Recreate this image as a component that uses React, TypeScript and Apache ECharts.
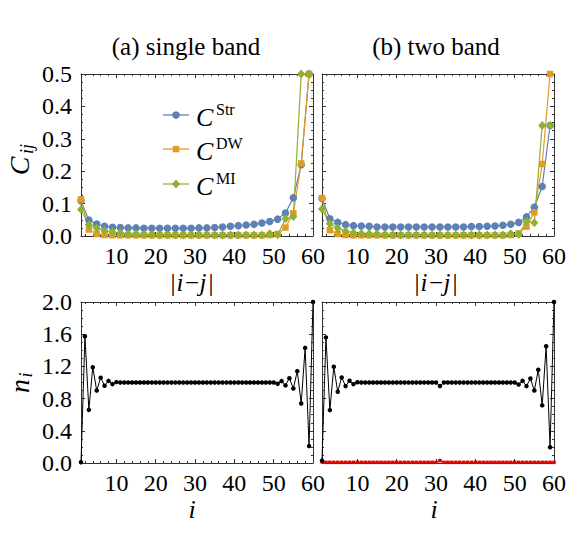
import React, { useEffect, useRef } from 'react';
import * as echarts from 'echarts';

// ---------- data ----------
const sepValues = [1, 3, 5, 7, 9, 11, 13, 15, 17, 19, 21, 23, 25, 27, 29, 31, 33, 35, 37, 39, 41, 43, 45, 47, 49, 51, 53, 55, 57, 59];
const siteValues = [1, 2, 3, 4, 5, 6, 7, 8, 9, 10, 11, 12, 13, 14, 15, 16, 17, 18, 19, 20, 21, 22, 23, 24, 25, 26, 27, 28, 29, 30, 31, 32, 33, 34, 35, 36, 37, 38, 39, 40, 41, 42, 43, 44, 45, 46, 47, 48, 49, 50, 51, 52, 53, 54, 55, 56, 57, 58, 59, 60];

const strSingle = [0.109, 0.049, 0.037, 0.030, 0.027, 0.026, 0.025, 0.025, 0.024, 0.024, 0.024, 0.024, 0.024, 0.024, 0.024, 0.025, 0.025, 0.026, 0.028, 0.030, 0.032, 0.034, 0.036, 0.040, 0.045, 0.052, 0.071, 0.118, 0.220, 0.500];
const dwSingle = [0.113, 0.020, 0.006, 0.003, 0.002, 0.002, 0.002, 0.002, 0.002, 0.002, 0.002, 0.002, 0.002, 0.002, 0.002, 0.002, 0.002, 0.002, 0.002, 0.002, 0.002, 0.002, 0.002, 0.002, 0.003, 0.006, 0.026, 0.070, 0.224, 0.500];
const miSingle = [0.082, 0.035, 0.024, 0.016, 0.012, 0.009, 0.007, 0.006, 0.005, 0.004, 0.003, 0.003, 0.003, 0.003, 0.003, 0.003, 0.003, 0.003, 0.003, 0.003, 0.003, 0.003, 0.003, 0.003, 0.007, 0.004, 0.053, 0.060, 0.500, 0.500];

const strTwo = [0.116, 0.053, 0.042, 0.035, 0.032, 0.031, 0.030, 0.028, 0.028, 0.028, 0.028, 0.028, 0.028, 0.028, 0.028, 0.028, 0.028, 0.028, 0.028, 0.029, 0.029, 0.030, 0.031, 0.033, 0.036, 0.042, 0.059, 0.089, 0.153, 0.341];
const dwTwo = [0.117, 0.018, 0.006, 0.003, 0.002, 0.002, 0.002, 0.002, 0.002, 0.002, 0.002, 0.002, 0.002, 0.002, 0.002, 0.002, 0.002, 0.002, 0.002, 0.002, 0.002, 0.002, 0.002, 0.002, 0.003, 0.008, 0.029, 0.073, 0.222, 0.500];
const miTwo = [0.083, 0.038, 0.024, 0.015, 0.010, 0.008, 0.007, 0.006, 0.005, 0.004, 0.003, 0.003, 0.003, 0.003, 0.003, 0.003, 0.003, 0.003, 0.003, 0.003, 0.003, 0.003, 0.003, 0.003, 0.007, 0.005, 0.044, 0.041, 0.341, 0.341];

const nSingle = [0.01, 1.575, 0.66, 1.19, 0.90, 1.06, 0.96, 1.02, 0.98, 1.005,
  1.0, 1.0, 1.0, 1.0, 1.0, 1.0, 1.0, 1.0, 1.0, 1.0,
  1.0, 1.0, 1.0, 1.0, 1.0, 1.0, 1.0, 1.0, 1.0, 1.0,
  1.0, 1.0, 1.0, 1.0, 1.0, 1.0, 1.0, 1.0, 1.0, 1.0,
  1.0, 1.0, 1.0, 1.0, 1.0, 1.0, 1.0, 1.0, 1.0, 1.0,
  0.984, 1.017, 0.964, 1.054, 0.926, 1.141, 0.74, 1.43, 0.21, 2.0];
const nTwo = [0.03, 1.56, 0.657, 1.195, 0.885, 1.063, 0.955, 1.021, 0.98, 1.003,
  1.0, 1.0, 1.0, 1.0, 1.0, 1.0, 1.0, 1.0, 1.0, 1.0,
  1.0, 1.0, 1.0, 1.0, 1.0, 1.0, 1.0, 1.0, 1.0, 1.0,
  0.955, 1.0, 1.0, 1.0, 1.0, 1.0, 1.0, 1.0, 1.0, 1.0,
  1.0, 1.0, 1.0, 1.0, 1.0, 1.0, 1.0, 1.0, 1.0, 1.0,
  0.976, 1.02, 0.955, 1.05, 0.90, 1.158, 0.716, 1.45, 0.195, 2.0];
const nTwoRed = [0.015, 0.008, 0.008, 0.008, 0.008, 0.008, 0.008, 0.008, 0.008, 0.008,
  0.008, 0.008, 0.008, 0.008, 0.008, 0.008, 0.008, 0.008, 0.008, 0.008,
  0.008, 0.008, 0.008, 0.008, 0.008, 0.008, 0.008, 0.008, 0.008, 0.008,
  0.03, 0.008, 0.008, 0.008, 0.008, 0.008, 0.008, 0.008, 0.008, 0.008,
  0.008, 0.008, 0.008, 0.008, 0.008, 0.008, 0.008, 0.008, 0.008, 0.008,
  0.008, 0.008, 0.008, 0.008, 0.008, 0.008, 0.008, 0.008, 0.008, 0.008];

const xTickValues = [10, 20, 30, 40, 50, 60];
const xMinorTickValues = [2, 4, 6, 8, 12, 14, 16, 18, 22, 24, 26, 28, 32, 34, 36, 38, 42, 44, 46, 48, 52, 54, 56, 58];

const panelTitles = ['(a) single band', '(b) two band'];
const legendNames = ['Str', 'DW', 'MI'];

// ---------- styles ----------
const FONT = 'Liberation Serif';
const FRAME = '#333333';
const BLUE = '#5e81b5';
const ORANGE = '#e19c24';
const GREEN = '#8fb131';

const grids = [
  { left: 81, top: 74, width: 232, height: 162 },
  { left: 322, top: 74, width: 232, height: 162 },
  { left: 81, top: 302, width: 232, height: 161 },
  { left: 322, top: 302, width: 232, height: 161 },
];

function makeXAxes(g: number) {
  const base = {
    type: 'value', gridIndex: g, min: 1, max: 60,
    splitLine: { show: false },
    axisLine: { show: true, onZero: false, lineStyle: { color: FRAME, width: 1 } },
  };
  const major = { show: true, inside: true, length: 4, customValues: xTickValues, lineStyle: { color: FRAME, width: 1 } };
  const minor = { show: true, inside: true, length: 2, customValues: xMinorTickValues, lineStyle: { color: FRAME, width: 1 } };
  return [
    { ...base, position: 'bottom', axisTick: major, axisLabel: { show: true, customValues: xTickValues, fontSize: 24, fontFamily: FONT, color: '#000', margin: 8 } },
    { ...base, position: 'bottom', axisLine: { show: false, onZero: false }, axisTick: minor, axisLabel: { show: false } },
    { ...base, position: 'top', axisTick: major, axisLabel: { show: false } },
    { ...base, position: 'top', axisLine: { show: false, onZero: false }, axisTick: minor, axisLabel: { show: false } },
  ];
}

function makeYAxes(g: number, max: number, interval: number, labels: boolean) {
  const base = {
    type: 'value', gridIndex: g, min: 0, max, interval,
    splitLine: { show: false },
    axisLine: { show: true, onZero: false, lineStyle: { color: FRAME, width: 1 } },
    axisTick: { show: true, inside: true, length: 4, lineStyle: { color: FRAME, width: 1 } },
    minorTick: { show: true, splitNumber: 4, length: 2, lineStyle: { color: FRAME, width: 1 } },
  };
  return [
    { ...base, position: 'left', axisLabel: { show: labels, fontSize: 24, fontFamily: FONT, color: '#000', margin: 9, formatter: (v: number) => v.toFixed(1) } },
    { ...base, position: 'right', axisLabel: { show: false } },
  ];
}

function corrSeries(g: number, str: number[], dw: number[], mi: number[]) {
  const common = { type: 'line', xAxisIndex: g * 4, yAxisIndex: g * 2, emphasis: { disabled: true } };
  return [
    { ...common, name: 'Str', data: sepValues.map((x, k) => [x, str[k]]), symbol: 'circle', symbolSize: 7.5, itemStyle: { color: BLUE }, lineStyle: { color: BLUE, width: 1.2 } },
    { ...common, name: 'DW', data: sepValues.map((x, k) => [x, dw[k]]), symbol: 'rect', symbolSize: 6.5, itemStyle: { color: ORANGE }, lineStyle: { color: ORANGE, width: 1.2 } },
    { ...common, name: 'MI', data: sepValues.map((x, k) => [x, mi[k]]), symbol: 'diamond', symbolSize: [8, 9], itemStyle: { color: GREEN }, lineStyle: { color: GREEN, width: 1.2 } },
  ];
}

function densSeries(g: number, vals: number[], color: string, size: number, symbol: string, name: string) {
  return {
    type: 'line', name, xAxisIndex: g * 4, yAxisIndex: g * 2, emphasis: { disabled: true },
    data: siteValues.map((x, k) => [x, vals[k]]),
    symbol, symbolSize: size, itemStyle: { color }, lineStyle: { color, width: 1 },
  };
}

function text(x: number, y: number, t: string, size: number, extra: any = {}) {
  return {
    type: 'text', x, y, silent: true,
    style: { text: t, fontSize: size, fontFamily: FONT, fill: '#000', align: 'center', verticalAlign: 'middle', ...extra },
  };
}

const legendY = [115, 149, 184];
const legendColors = [BLUE, ORANGE, GREEN];

function legendGraphics() {
  const out: any[] = [];
  legendY.forEach((y, k) => {
    const c = legendColors[k];
    out.push({ type: 'line', silent: true, shape: { x1: 163, y1: y, x2: 189, y2: y }, style: { stroke: c, lineWidth: 1.3 } });
    if (k === 0) out.push({ type: 'circle', silent: true, shape: { cx: 176, cy: y, r: 3.8 }, style: { fill: c } });
    if (k === 1) out.push({ type: 'rect', silent: true, shape: { x: 172.8, y: y - 3.2, width: 6.5, height: 6.5 }, style: { fill: c } });
    if (k === 2) out.push({ type: 'polygon', silent: true, shape: { points: [[176, y - 4.5], [180, y], [176, y + 4.5], [172, y]] }, style: { fill: c } });
    out.push(text(196, y + 2, 'C', 26, { align: 'left', fontStyle: 'italic' }));
    out.push(text(216, y - 6, legendNames[k], 16, { align: 'left' }));
  });
  return out;
}

function sepLabel(cx: number, cy: number) {
  // |i−j| built from individual glyphs
  return [
    text(cx - 18, cy, '|', 25),
    text(cx - 11, cy, 'i', 25, { fontStyle: 'italic' }),
    text(cx + 1, cy, '−', 25),
    text(cx + 12, cy, 'j', 25, { fontStyle: 'italic' }),
    text(cx + 20, cy, '|', 25),
  ];
}

const App: React.FC = () => {
  const ref = useRef<HTMLDivElement>(null);
  useEffect(() => {
    if (!ref.current) return;
    const chart = echarts.init(ref.current, undefined, { renderer: 'svg' });
    const xAxis = [0, 1, 2, 3].flatMap((g) => makeXAxes(g));
    const yAxis = [
      ...makeYAxes(0, 0.5, 0.1, true),
      ...makeYAxes(1, 0.5, 0.1, false),
      ...makeYAxes(2, 2.0, 0.4, true),
      ...makeYAxes(3, 2.0, 0.4, false),
    ];
    const series = [
      ...corrSeries(0, strSingle, dwSingle, miSingle),
      ...corrSeries(1, strTwo, dwTwo, miTwo),
      densSeries(2, nSingle, '#000', 4.5, 'circle', 'n'),
      densSeries(3, nTwoRed, '#e00000', 3.5, 'rect', 'n2'),
      densSeries(3, nTwo, '#000', 4.5, 'circle', 'n'),
    ];
    const graphic = [
      text(186, 46, panelTitles[0], 25),
      text(436, 46, panelTitles[1], 25),
      ...sepLabel(191, 282),
      ...sepLabel(435, 282),
      text(192, 509, 'i', 26, { fontStyle: 'italic' }),
      text(434, 509, 'i', 26, { fontStyle: 'italic' }),
      {
        type: 'group', x: 19, y: 160, rotation: Math.PI / 2, silent: true,
        children: [
          text(-6, 0, 'C', 28, { fontStyle: 'italic' }),
          text(11, 8, 'ij', 18, { fontStyle: 'italic' }),
        ],
      },
      {
        type: 'group', x: 19, y: 382, rotation: Math.PI / 2, silent: true,
        children: [
          text(-4, 0, 'n', 28, { fontStyle: 'italic' }),
          text(7, 7, 'i', 18, { fontStyle: 'italic' }),
        ],
      },
      ...legendGraphics(),
    ];
    chart.setOption({
      animation: false,
      backgroundColor: '#ffffff',
      grid: grids.map((g) => ({ ...g, containLabel: false, outerBoundsMode: 'none' })),
      xAxis,
      yAxis,
      series,
      graphic,
    } as any);
    return () => chart.dispose();
  }, []);
  return (
    <div
      ref={ref}
      style={{ position: 'absolute', left: 0, top: 0, width: 581, height: 550, background: '#fff' }}
    />
  );
};

export default App;
